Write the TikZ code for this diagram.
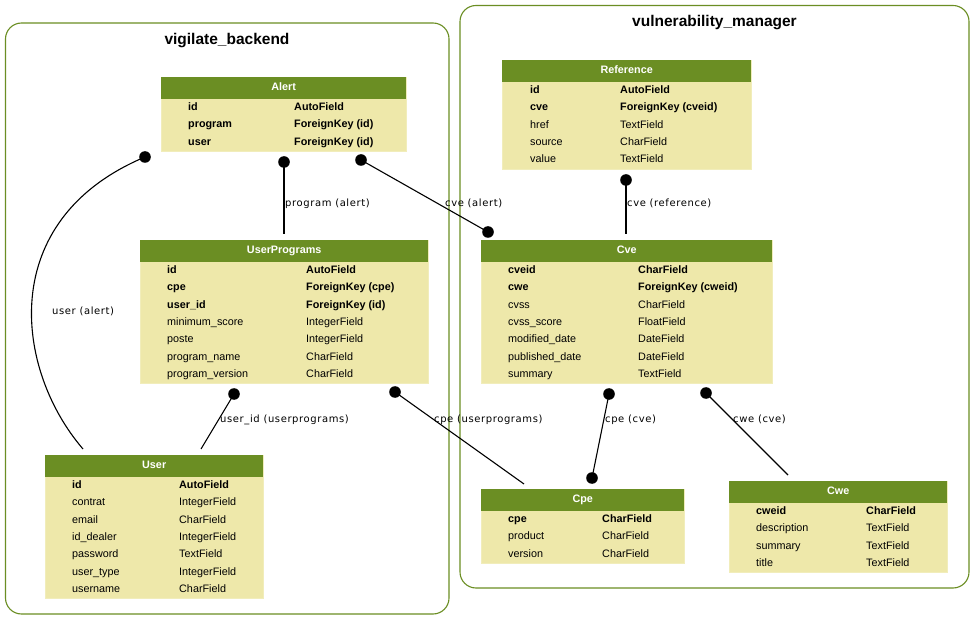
\documentclass[tikz,border=0pt]{standalone}
\usepackage{fontspec}
\setmainfont{Liberation Sans}
\newfontfamily\lblfont[LetterSpace=6]{DejaVu Sans}
\definecolor{olivehdr}{HTML}{6B8E23}
\definecolor{tblbody}{HTML}{EEE8AA}
\tikzset{
  cluster/.style={draw=olivehdr, line width=1.1pt, rounded corners=16pt},
  clustertitle/.style={font=\fontsize{15.5}{18}\selectfont\bfseries, anchor=base, inner sep=0pt},
  tbody/.style={fill=tblbody, draw=tblbody!80!white, line width=0.6pt, inner sep=0pt, rectangle},
  thead/.style={fill=olivehdr, text=white, inner sep=0pt, rectangle, minimum height=22pt,
    font=\fontsize{10.8}{12}\selectfont\bfseries, text height=7.6pt, text depth=2.4pt},
  rowtxt/.style={anchor=base west, inner sep=0pt},
  conn/.style={line width=1.1pt, black},
  lbl/.style={anchor=base west, inner sep=0pt, font=\lblfont\fontsize{10}{12}\selectfont},
  dotend/.style={fill=black}
}
\newcommand\dbtable[9]{%
  \node[tbody, anchor=north west, minimum width={(#3-#2)*1pt}, minimum height={(22+17.33*#5)*1pt}] (#1) at (#2,#4) {};
  \node[thead, anchor=north west, minimum width={(#3-#2)*1pt}] (#1-h) at (#2,#4) {#6};
  \foreach \fn/\ft/\fs [count=\i] in {#9} {
    \node[rowtxt, font=\fontsize{10.8}{12}\selectfont\fs] (#1-n\i) at (#7,{#4+33.5+17.33*(\i-1)}) {\fn};
    \node[rowtxt, font=\fontsize{10.8}{12}\selectfont\fs] (#1-t\i) at (#8,{#4+33.5+17.33*(\i-1)}) {\ft};
  }
}
\newcommand\fkdot[1]{\fill[dotend] (#1) circle (5.8pt);}
\begin{document}
\begin{tikzpicture}[x=1pt,y=-1pt]
\useasboundingbox (0,0) rectangle (975,620);
\fill[white] (0,0) rectangle (975,620);
% clusters
\draw[cluster] (5.5,23) rectangle (449,614);
\draw[cluster] (460,5.5) rectangle (969,588);
\node[clustertitle] (vbtitle) at (227,45) {vigilate\_backend};
\node[clustertitle] (vmtitle) at (714.5,27) {vulnerability\_manager};
% tables
\dbtable{alert}{161}{406}{77}{3}{Alert}{188}{294}{id/AutoField/\bfseries, program/ForeignKey (id)/\bfseries, user/ForeignKey (id)/\bfseries}
\dbtable{userprog}{140}{428}{240}{7}{UserPrograms}{167}{306}{id/AutoField/\bfseries, cpe/ForeignKey (cpe)/\bfseries, user\_id/ForeignKey (id)/\bfseries, minimum\_score/IntegerField/\mdseries, poste/IntegerField/\mdseries, program\_name/CharField/\mdseries, program\_version/CharField/\mdseries}
\dbtable{user}{45}{263}{455}{7}{User}{72}{179}{id/AutoField/\bfseries, contrat/IntegerField/\mdseries, email/CharField/\mdseries, id\_dealer/IntegerField/\mdseries, password/TextField/\mdseries, user\_type/IntegerField/\mdseries, username/CharField/\mdseries}
\dbtable{reference}{502}{751}{60}{5}{Reference}{530}{620}{id/AutoField/\bfseries, cve/ForeignKey (cveid)/\bfseries, href/TextField/\mdseries, source/CharField/\mdseries, value/TextField/\mdseries}
\dbtable{cve}{481}{772}{240}{7}{Cve}{508}{638}{cveid/CharField/\bfseries, cwe/ForeignKey (cweid)/\bfseries, cvss/CharField/\mdseries, cvss\_score/FloatField/\mdseries, modified\_date/DateField/\mdseries, published\_date/DateField/\mdseries, summary/TextField/\mdseries}
\dbtable{cpe}{481}{684}{489}{3}{Cpe}{508}{602}{cpe/CharField/\bfseries, product/CharField/\mdseries, version/CharField/\mdseries}
\dbtable{cwe}{729}{947}{481}{4}{Cwe}{756}{866}{cweid/CharField/\bfseries, description/TextField/\mdseries, summary/TextField/\mdseries, title/TextField/\mdseries}
% connector end points
\coordinate (a1) at (145,157);   \coordinate (u1) at (83,449);
\coordinate (a2) at (284,162);   \coordinate (up1) at (284,234);
\coordinate (a3) at (361,160);   \coordinate (c1) at (488,232);
\coordinate (r1) at (626,180);   \coordinate (c2) at (626,234);
\coordinate (up2) at (234,394);  \coordinate (u2) at (201,449);
\coordinate (up3) at (395,392);  \coordinate (cp1) at (524,484);
\coordinate (c3) at (609,394);   \coordinate (cp2) at (592,478);
\coordinate (c4) at (706,393);   \coordinate (cw1) at (788,475);
% connectors
\draw[conn] (a1) .. controls (-5,220) and (15,370) .. (u1);
\draw[conn] (a2) -- (up1);
\draw[conn] (a3) -- (c1);
\draw[conn] (r1) -- (c2);
\draw[conn] (up2) -- (u2);
\draw[conn] (up3) -- (cp1);
\draw[conn] (c3) -- (cp2);
\draw[conn] (c4) -- (cw1);
\fkdot{a1}\fkdot{a2}\fkdot{a3}\fkdot{c1}\fkdot{r1}
\fkdot{up2}\fkdot{up3}\fkdot{c3}\fkdot{cp2}\fkdot{c4}
% labels
\node[lbl] (l1) at (52,315) {user (alert)};
\node[lbl] (l2) at (285,207) {program (alert)};
\node[lbl] (l3) at (445,207) {cve (alert)};
\node[lbl] (l4) at (627,207) {cve (reference)};
\node[lbl] (l5) at (220,422) {user\_id (userprograms)};
\node[lbl] (l6) at (434,422) {cpe (userprograms)};
\node[lbl] (l7) at (605,422) {cpe (cve)};
\node[lbl] (l8) at (733,422) {cwe (cve)};
\end{tikzpicture}
\end{document}
